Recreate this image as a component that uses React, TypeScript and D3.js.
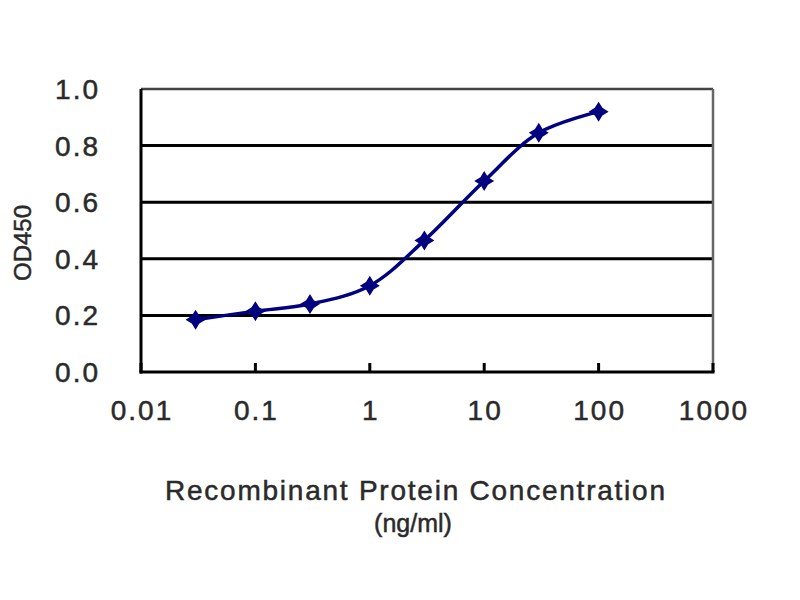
import React from "react";
import * as d3 from "d3";

const concentrations = [0.03, 0.1, 0.3, 1, 3, 10, 30, 100];
const odValues = [0.185, 0.215, 0.24, 0.305, 0.465, 0.675, 0.845, 0.92];
const xTicks = [0.01, 0.1, 1, 10, 100, 1000];
const xTickLabels = ["0.01", "0.1", "1", "10", "100", "1000"];
const yTicks = [0, 0.2, 0.4, 0.6, 0.8, 1.0];
const yTickLabels = ["0.0", "0.2", "0.4", "0.6", "0.8", "1.0"];

export default function App() {
  const left = 141, right = 713, top = 89, bottom = 372;
  const x = d3.scaleLog().domain([0.01, 1000]).range([left, right]);
  const y = d3.scaleLinear().domain([0, 1]).range([bottom, top]);
  const pts: [number, number][] = concentrations.map((c, i) => [x(c), y(odValues[i])]);
  const line = d3.line().curve(d3.curveCatmullRom.alpha(0.5))(pts) || "";
  const r = 10, w = 3.8;
  const star = `M0,${-r}L${w},${-w}L${r},0L${w},${w}L0,${r}L${-w},${w}L${-r},0L${-w},${-w}Z`;
  const font = "'Liberation Sans', Arial, sans-serif";
  const txt = { fontFamily: font, fill: "#2a2a2a", stroke: "#2a2a2a", strokeWidth: 0.5 };
  return (
    <svg width={800} height={600} style={{ position: "absolute", left: 0, top: 0, background: "#fff" }}>
      <rect x={0} y={0} width={800} height={600} fill="#fff" />
      {yTicks.slice(1, 5).map((t) => (
        <line key={t} x1={left} x2={right} y1={y(t)} y2={y(t)} stroke="#000" strokeWidth={3} />
      ))}
      <line x1={left} x2={right} y1={top} y2={top} stroke="#444" strokeWidth={2.5} />
      <line x1={right} x2={right} y1={top} y2={bottom} stroke="#666" strokeWidth={2.5} />
      <line x1={left} x2={left} y1={top} y2={bottom + 1.5} stroke="#000" strokeWidth={3} />
      <line x1={left - 1.5} x2={right + 1.5} y1={bottom} y2={bottom} stroke="#000" strokeWidth={3} />
      {xTicks.map((t) => (
        <line key={t} x1={x(t)} x2={x(t)} y1={bottom} y2={bottom - 9} stroke="#000" strokeWidth={3} />
      ))}
      {yTicks.map((t, i) => (
        <text key={t} x={100} y={y(t)} dy="0.36em" textAnchor="end" fontSize={28} letterSpacing={2} {...txt}>
          {yTickLabels[i]}
        </text>
      ))}
      {xTicks.map((t, i) => (
        <text key={t} x={x(t) + 1} y={420} textAnchor="middle" fontSize={28} letterSpacing={2} {...txt}>
          {xTickLabels[i]}
        </text>
      ))}
      <text x={22} y={243} transform="rotate(-90 22 243)" dy="0.36em" textAnchor="middle" fontSize={24} {...txt}>
        OD450
      </text>
      <text x={415} y={500} textAnchor="middle" fontSize={28} textLength={500} lengthAdjust="spacing" {...txt}>
        Recombinant Protein Concentration
      </text>
      <text x={413} y={532} textAnchor="middle" fontSize={25} {...txt}>
        (ng/ml)
      </text>
      <path d={line} fill="none" stroke="#000080" strokeWidth={3.5} />
      {pts.map(([px, py], i) => (
        <path key={i} d={star} transform={`translate(${px},${py})`} fill="#000080" />
      ))}
    </svg>
  );
}
